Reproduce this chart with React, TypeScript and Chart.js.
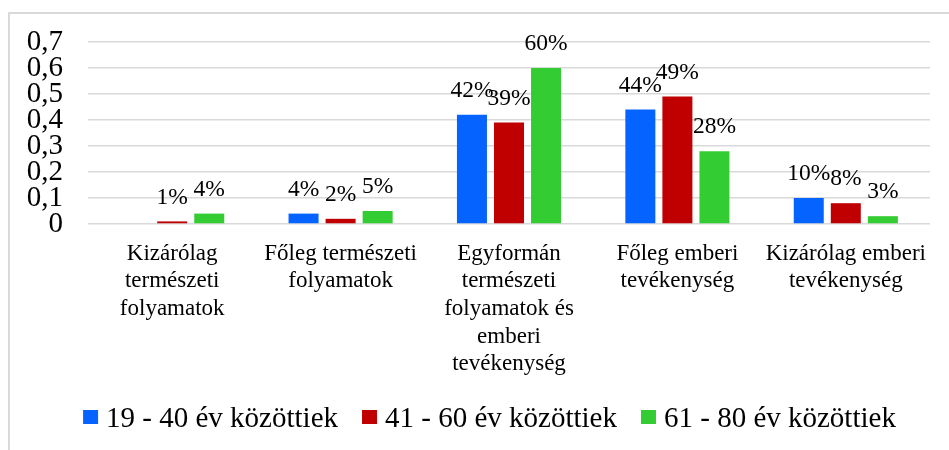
import React, { useEffect, useRef } from "react";
import { Chart, registerables } from "chart.js";

Chart.register(...registerables);

const categories: string[][] = [
  ["Kizárólag", "természeti", "folyamatok"],
  ["Főleg természeti", "folyamatok"],
  ["Egyformán", "természeti", "folyamatok és", "emberi", "tevékenység"],
  ["Főleg emberi", "tevékenység"],
  ["Kizárólag emberi", "tevékenység"],
];

const seriesNames = ["19 - 40 év közöttiek", "41 - 60 év közöttiek", "61 - 80 év közöttiek"];
const age19to40 = [0, 0.04, 0.42, 0.44, 0.1];
const age41to60 = [0.01, 0.02, 0.39, 0.49, 0.08];
const age61to80 = [0.04, 0.05, 0.6, 0.28, 0.03];
const seriesColors = ["#0563FF", "#C00000", "#33CC33"];
const yTicks = [0, 0.1, 0.2, 0.3, 0.4, 0.5, 0.6, 0.7];

const FONT = '"Liberation Serif", "Times New Roman", serif';

const borderPlugin = {
  id: "frameBorder",
  beforeDraw(chart: any) {
    const ctx = chart.ctx;
    ctx.save();
    ctx.fillStyle = "#d9d9d9";
    ctx.fillRect(8, 12, chart.width - 8, 2);
    ctx.fillRect(8, 12, 2, chart.height - 12);
    ctx.restore();
  },
};

const dataLabelPlugin = {
  id: "pctLabels",
  afterDatasetsDraw(chart: any) {
    const ctx = chart.ctx;
    ctx.save();
    ctx.font = `23.5px ${FONT}`;
    ctx.fillStyle = "#000";
    ctx.textAlign = "center";
    ctx.textBaseline = "middle";
    chart.data.datasets.forEach((ds: any, di: number) => {
      const meta = chart.getDatasetMeta(di);
      meta.data.forEach((bar: any, i: number) => {
        const v = ds.data[i];
        if (!v) return;
        ctx.fillText(Math.round(v * 100) + "%", bar.x, bar.y - 24);
      });
    });
    ctx.restore();
  },
};

const legendPlugin = {
  id: "customLegend",
  afterDraw(chart: any) {
    const ctx = chart.ctx;
    ctx.save();
    ctx.font = `29px ${FONT}`;
    ctx.textBaseline = "middle";
    ctx.textAlign = "left";
    const boxW = 15;
    const boxH = 14;
    const gap = 8;
    const itemGap = 24;
    const items = chart.data.datasets.map((ds: any) => ({
      label: ds.label,
      color: ds.backgroundColor,
      w: ctx.measureText(ds.label).width,
    }));
    let total = 0;
    items.forEach((it: any, i: number) => {
      total += boxW + gap + it.w + (i > 0 ? itemGap : 0);
    });
    let x = 489.5 - total / 2;
    items.forEach((it: any) => {
      ctx.fillStyle = it.color;
      ctx.fillRect(x, 410, boxW, boxH);
      ctx.fillStyle = "#000";
      ctx.fillText(it.label, x + boxW + gap, 419);
      x += boxW + gap + it.w + itemGap;
    });
    ctx.restore();
  },
};

export default function App() {
  const canvasRef = useRef<HTMLCanvasElement | null>(null);

  useEffect(() => {
    if (!canvasRef.current) return;
    const values = [age19to40, age41to60, age61to80];
    const chart = new Chart(canvasRef.current, {
      type: "bar",
      data: {
        labels: categories,
        datasets: seriesNames.map((name, i) => ({
          label: name,
          data: values[i],
          backgroundColor: seriesColors[i],
          borderWidth: 0,
          categoryPercentage: 0.66,
          barPercentage: 0.81,
        })),
      },
      options: {
        animation: false,
        responsive: true,
        maintainAspectRatio: false,
        layout: { padding: { left: 0, right: 19, top: 42, bottom: 0 } },
        plugins: {
          legend: { display: false },
          tooltip: { enabled: false },
        },
        scales: {
          x: {
            grid: { display: false, drawTicks: false },
            border: { display: false },
            ticks: {
              color: "#000",
              padding: 16,
              maxRotation: 0,
              autoSkip: false,
              font: { family: FONT, size: 23, lineHeight: 1.2 },
            },
            afterFit(scale: any) {
              scale.height = 226;
            },
          },
          y: {
            min: 0,
            max: 0.7,
            grid: { color: "#d9d9d9", lineWidth: 1.5, drawTicks: false },
            border: { display: false },
            afterBuildTicks(scale: any) {
              scale.ticks = yTicks.map((v) => ({ value: v }));
            },
            ticks: {
              color: "#000",
              padding: 25,
              autoSkip: false,
              font: { family: FONT, size: 29, lineHeight: 0.9 },
              callback: (v: any) => (Number(v) === 0 ? "0" : Number(v).toFixed(1).replace(".", ",")),
            },
            afterFit(scale: any) {
              scale.width = 88;
            },
          },
        },
      },
      plugins: [borderPlugin, dataLabelPlugin, legendPlugin],
    });
    return () => chart.destroy();
  }, []);

  return (
    <div style={{ position: "absolute", left: 0, top: 0, width: 949, height: 450 }}>
      <canvas ref={canvasRef} style={{ display: "block" }} />
    </div>
  );
}
